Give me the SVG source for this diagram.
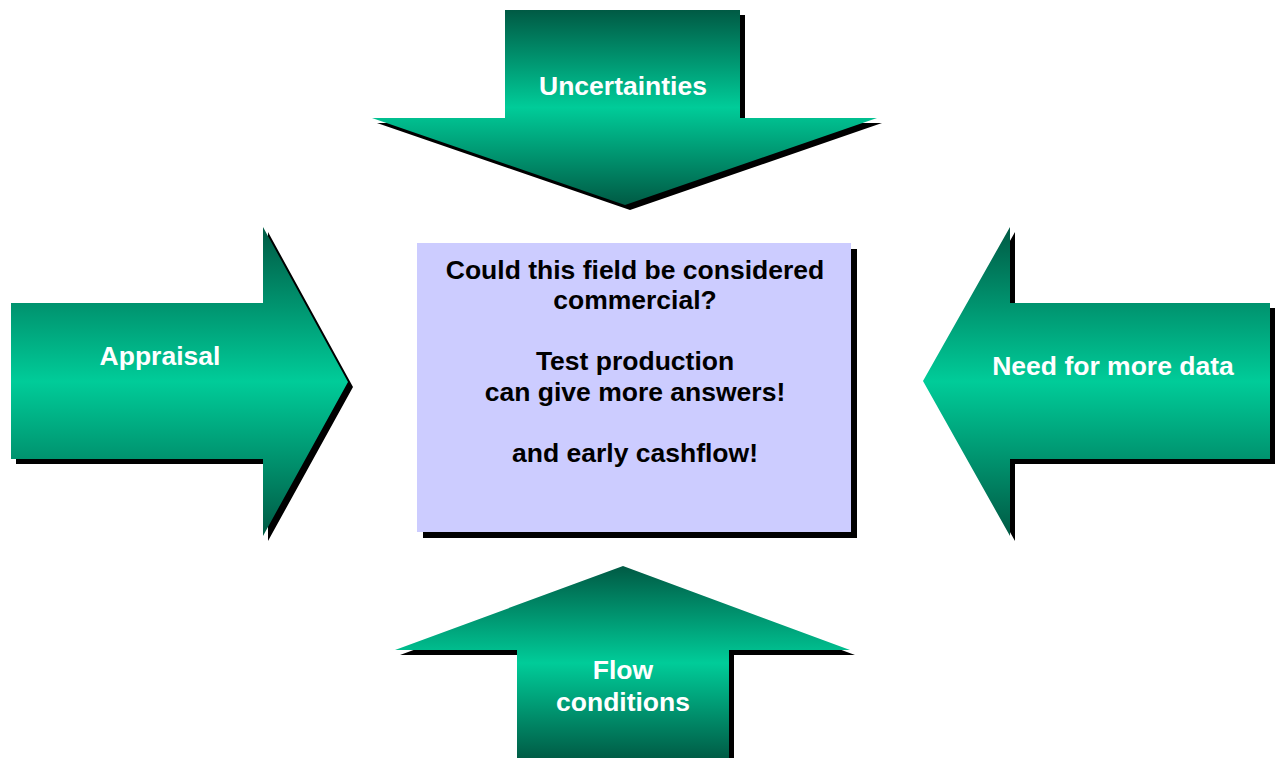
<svg xmlns="http://www.w3.org/2000/svg" width="1281" height="758" viewBox="0 0 1281 758">
<defs>
<linearGradient id="g" x1="0" y1="0" x2="0" y2="1">
<stop offset="0" stop-color="#005A44"/>
<stop offset="0.5" stop-color="#00CC99"/>
<stop offset="1" stop-color="#005A44"/>
</linearGradient>
<style>
.arrow{fill:url(#g)}
.shadow{fill:#000}
.lbl{font-family:"Liberation Sans",Arial,sans-serif;font-weight:bold;font-size:26.5px;fill:#fff;text-anchor:middle}
.box{fill:#CCCCFF}
.txt{font-family:"Liberation Sans",Arial,sans-serif;font-weight:bold;font-size:26.5px;fill:#000;text-anchor:middle}
</style>
</defs>
<rect width="1281" height="758" fill="#fff"/>
<g id="uncertainties">
<polygon class="shadow" transform="translate(5,5)" points="505,10 740,10 740,118 877,118 625,205 372,118 505,118"/>
<polygon class="arrow" points="505,10 740,10 740,118 877,118 625,205 372,118 505,118"/>
<text class="lbl" x="623" y="95">Uncertainties</text>
</g>
<g id="appraisal">
<polygon class="shadow" transform="translate(5,5)" points="11,303 263,303 263,227 348,382 263,536 263,459 11,459"/>
<polygon class="arrow" points="11,303 263,303 263,227 348,382 263,536 263,459 11,459"/>
<text class="lbl" x="160" y="365">Appraisal</text>
</g>
<g id="need-data">
<polygon class="shadow" transform="translate(5,5)" points="1270,303 1010,303 1010,227 923,381 1010,536 1010,459 1270,459"/>
<polygon class="arrow" points="1270,303 1010,303 1010,227 923,381 1010,536 1010,459 1270,459"/>
<text class="lbl" x="1113" y="375">Need for more data</text>
</g>
<g id="flow-conditions">
<polygon class="shadow" transform="translate(5,5)" points="623,566 850,650 729,650 729,760 517,760 517,650 395,650"/>
<polygon class="arrow" points="623,566 850,650 729,650 729,760 517,760 517,650 395,650"/>
<text class="lbl" x="623" y="679">Flow</text>
<text class="lbl" x="623" y="711">conditions</text>
</g>
<g id="question">
<rect class="shadow" x="423" y="249" width="434" height="289"/>
<rect class="box" x="417" y="243" width="434" height="289"/>
<text class="txt" x="635" y="279">Could this field be considered</text>
<text class="txt" x="635" y="309">commercial?</text>
<text class="txt" x="635" y="370">Test production</text>
<text class="txt" x="635" y="401">can give more answers!</text>
<text class="txt" x="635" y="462">and early cashflow!</text>
</g>
<g id="connectors"/>
</svg>
